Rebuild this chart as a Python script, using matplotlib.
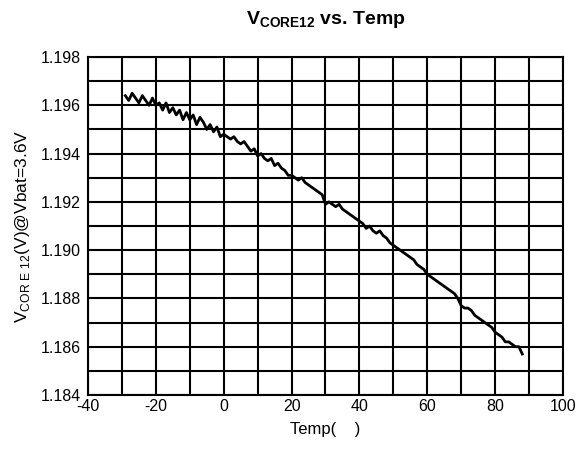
import numpy as np
import matplotlib.pyplot as plt

plt.rcParams['font.family'] = ['Liberation Sans', 'DejaVu Sans']
plt.rcParams['mathtext.fontset'] = 'custom'
plt.rcParams['mathtext.rm'] = 'Liberation Sans'
plt.rcParams['mathtext.bf'] = 'Liberation Sans:bold'
plt.rcParams['axes.unicode_minus'] = False

temp = np.arange(-29, 89)
vcore = [
    1.1964, 1.1962, 1.1965, 1.1963, 1.1961, 1.1964, 1.1962, 1.1960, 1.1963, 1.1960,
    1.1961, 1.1958, 1.1961, 1.1957, 1.1959, 1.1956, 1.1958, 1.1954, 1.1957, 1.1954,
    1.1956, 1.1952, 1.1955, 1.1953, 1.1950, 1.1952, 1.1949, 1.1951, 1.1947, 1.1948,
    1.1947, 1.1946, 1.1947, 1.1945, 1.1944, 1.1945, 1.1943, 1.1941, 1.1942, 1.1939,
    1.1940, 1.1938, 1.1937, 1.1938, 1.1935, 1.1936, 1.1934, 1.1933, 1.1931, 1.1931,
    1.1930, 1.1929, 1.1930, 1.1928, 1.1927, 1.1926, 1.1925, 1.1924, 1.1923, 1.1919,
    1.1920, 1.1919, 1.1918, 1.1919, 1.1917, 1.1916, 1.1915, 1.1914, 1.1913, 1.1912,
    1.1911, 1.1909, 1.1910, 1.1908, 1.1907, 1.1908, 1.1906, 1.1905, 1.1903, 1.1902,
    1.1901, 1.1900, 1.1899, 1.1898, 1.1897, 1.1896, 1.1894, 1.1893, 1.1892, 1.1890,
    1.1889, 1.1888, 1.1887, 1.1886, 1.1885, 1.1884, 1.1883, 1.1882, 1.1880, 1.1877,
    1.1876, 1.1876, 1.1875, 1.1873, 1.1872, 1.1871, 1.1870, 1.1869, 1.1868, 1.1866,
    1.1865, 1.1864, 1.1862, 1.1862, 1.1861, 1.1860, 1.1860, 1.1857,
]

fig = plt.figure(figsize=(5.76, 4.51), dpi=100)
ax = fig.add_axes([0.1528, 0.1242, 0.8246, 0.7494])

ax.plot(temp, vcore, color='black', linewidth=2, zorder=3)

ax.set_xlim(-40, 100)
ax.set_ylim(1.184, 1.198)
ax.set_xticks(np.arange(-40, 101, 20))
ax.set_xticks(np.arange(-40, 101, 10), minor=True)
ax.set_yticks(np.arange(1.184, 1.1981, 0.002))
ax.set_yticks(np.arange(1.184, 1.1981, 0.001), minor=True)
ax.set_yticklabels([f'{v:.3f}' for v in np.arange(1.184, 1.1981, 0.002)])
ax.grid(which='both', color='black', linewidth=1.5)
ax.tick_params(which='both', length=0, labelsize=11.5, pad=5)
ax.tick_params(axis='x', pad=3)
for s in ax.spines.values():
    s.set_linewidth(1.5)

ax.set_xlabel('Temp(    )', fontsize=12, labelpad=6)
ax.set_ylabel(r'V$_{\mathrm{COR\ E\ 12}}$(V)@Vbat=3.6V', fontsize=12.5, labelpad=6)
ax.set_title(r'$\mathbf{V_{CORE12}}$ vs. Temp', fontsize=14, fontweight='bold', pad=24)

plt.savefig('out.png', dpi=100)
